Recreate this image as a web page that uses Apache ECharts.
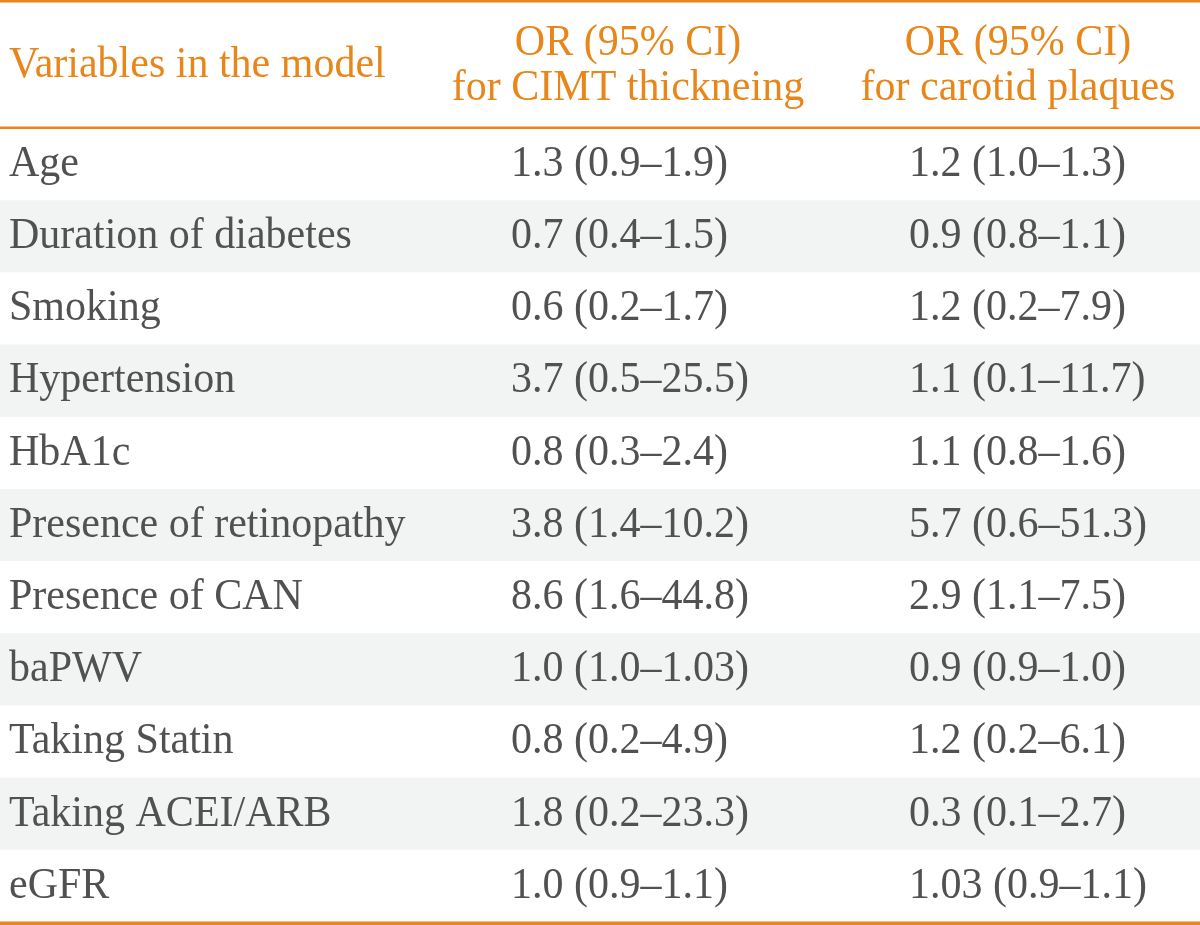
<!DOCTYPE html>
<html><head><meta charset="utf-8">
<script src="https://cdn.jsdelivr.net/npm/echarts@6/dist/echarts.min.js"></script>
<style>html,body{margin:0;padding:0;background:#fff}#c{width:1200px;height:925px}</style>
</head><body><div id="c"></div>
<script>
// ---- data ----
const headers = ['Variables in the model', 'OR (95% CI)\nfor CIMT thickneing', 'OR (95% CI)\nfor carotid plaques'];
const variables = ['Age', 'Duration of diabetes', 'Smoking', 'Hypertension', 'HbA1c',
  'Presence of retinopathy', 'Presence of CAN', 'baPWV', 'Taking Statin', 'Taking ACEI/ARB', 'eGFR'];
const cimtOR   = [1.3, 0.7, 0.6, 3.7, 0.8, 3.8, 8.6, 1.0, 0.8, 1.8, 1.0];
const cimtLow  = [0.9, 0.4, 0.2, 0.5, 0.3, 1.4, 1.6, 1.0, 0.2, 0.2, 0.9];
const cimtHigh = [1.9, 1.5, 1.7, 25.5, 2.4, 10.2, 44.8, 1.03, 4.9, 23.3, 1.1];
const plaqOR   = [1.2, 0.9, 1.2, 1.1, 1.1, 5.7, 2.9, 0.9, 1.2, 0.3, 1.03];
const plaqLow  = [1.0, 0.8, 0.2, 0.1, 0.8, 0.6, 1.1, 0.9, 0.2, 0.1, 0.9];
const plaqHigh = [1.3, 1.1, 7.9, 11.7, 1.6, 51.3, 7.5, 1.0, 6.1, 2.7, 1.1];

// ---- style ----
const ORANGE = '#E8861A';
const GREY_TEXT = '#515151';
const STRIPE = '#F2F3F3';
const FAMILY = '"Liberation Serif", "Times New Roman", Times, serif';
const SIZE = 42;
const SY = 1.07;

function fmt(v) { let s = String(v); if (s.indexOf('.') < 0) s += '.0'; return s; }
function cellParts(or, lo, hi) {
  const s = fmt(or);
  const k = s.indexOf('.');
  return [s.slice(0, k), s.slice(k) + ' (' + fmt(lo) + '\u2013' + fmt(hi) + ')'];
}

const chart = echarts.init(document.getElementById('c'), null, { renderer: 'canvas' });

function renderRow(params, api) {
  const i = api.value(1);
  const c = api.coord([0, i]);
  const h = api.size([0, 1])[1];
  const y = c[1];
  const children = [];
  if (i % 2 === 1) {
    children.push({ type: 'rect', shape: { x: 0, y: y - h / 2, width: 1200, height: h }, style: { fill: STRIPE }, silent: true });
  }
  const txt = (t, x, align) => ({
    type: 'text', scaleY: SY, originX: x, originY: y,
    style: { text: t, x: x, y: y, fill: GREY_TEXT, fontFamily: FAMILY, fontSize: SIZE, align: align, verticalAlign: 'middle' }
  });
  children.push(txt(variables[i], api.coord([9, i])[0], 'left'));
  const a = cellParts(cimtOR[i], cimtLow[i], cimtHigh[i]);
  const xa = api.coord([532, i])[0];
  children.push(txt(a[0], xa, 'right'));
  children.push(txt(a[1], xa, 'left'));
  const b = cellParts(plaqOR[i], plaqLow[i], plaqHigh[i]);
  const xb = api.coord([930, i])[0];
  children.push(txt(b[0], xb, 'right'));
  children.push(txt(b[1], xb, 'left'));
  return { type: 'group', children: children };
}

const hdrText = (t, x, y, align) => ({
  type: 'text', silent: true, scaleY: SY, originX: x, originY: y,
  style: { text: t, x: x, y: y, fill: ORANGE, fontFamily: FAMILY, fontSize: SIZE, align: align, verticalAlign: 'middle', lineHeight: 42 }
});

chart.setOption({
  animation: false,
  backgroundColor: '#ffffff',
  grid: { left: 0, right: 0, top: 128, bottom: 3, containLabel: false },
  xAxis: { type: 'value', min: 0, max: 1200, show: false },
  yAxis: { type: 'category', data: variables, inverse: true, show: false },
  series: [{
    type: 'custom',
    renderItem: renderRow,
    data: variables.map((v, i) => [0, i]),
    encode: { x: 0, y: 1 },
    z: 1
  }],
  graphic: [
    { type: 'rect', shape: { x: 0, y: 0, width: 1200, height: 2.5 }, style: { fill: ORANGE }, z: 10 },
    { type: 'rect', shape: { x: 0, y: 126.5, width: 1200, height: 2.5 }, style: { fill: ORANGE }, z: 10 },
    { type: 'rect', shape: { x: 0, y: 921.5, width: 1200, height: 3.5 }, style: { fill: ORANGE }, z: 10 },
    hdrText(headers[0], 9, 65, 'left'),
    hdrText(headers[1], 628, 66, 'center'),
    hdrText(headers[2], 1018, 66, 'center')
  ]
});
</script>
</body></html>
